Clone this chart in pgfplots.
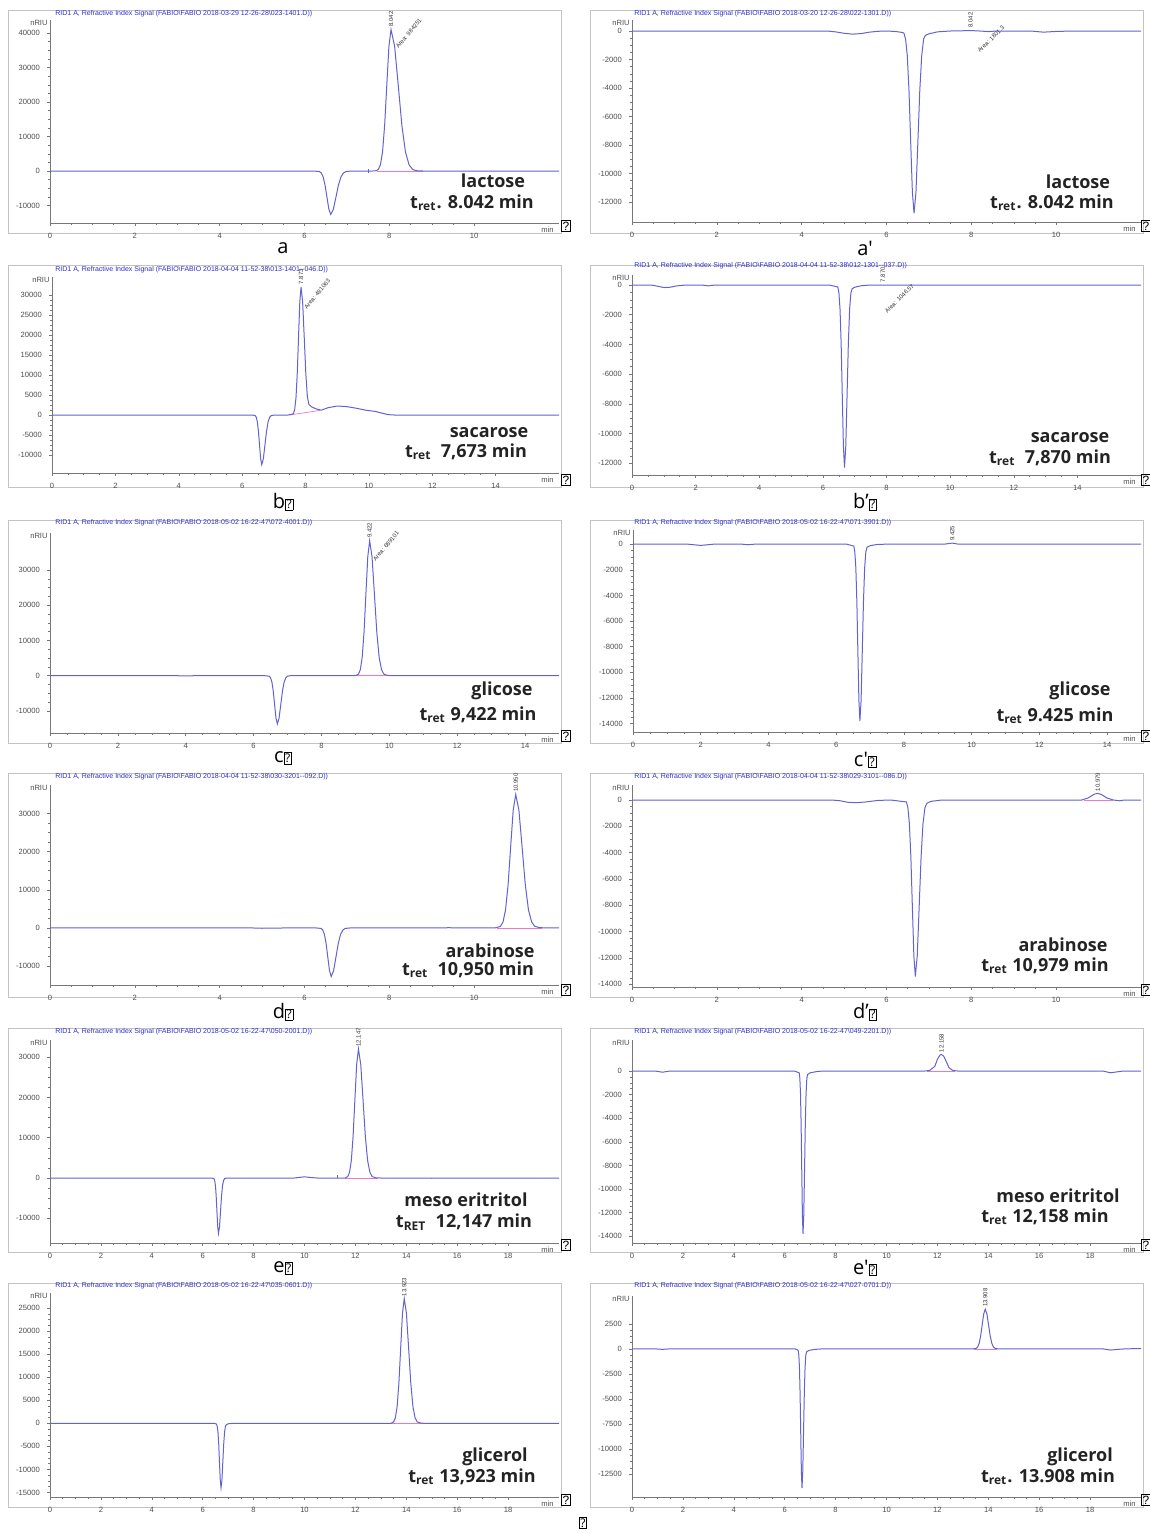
\documentclass[border=0pt]{standalone}
\usepackage{fontspec}
\setmainfont{Liberation Sans}
\newfontfamily\osans{Open Sans}
\usepackage{pgfplots}
\pgfplotsset{compat=1.18}
\definecolor{curvec}{RGB}{98,98,210}
\definecolor{titlec}{RGB}{45,45,205}
\definecolor{framec}{RGB}{195,195,195}
\definecolor{axc}{RGB}{120,120,120}
\definecolor{basec}{RGB}{235,120,200}
\definecolor{txtc}{RGB}{35,35,35}
\newcommand\tickfont{\fontsize{3.8}{4}\selectfont}
\newcommand\ttlfont{\fontsize{3.5}{4}\selectfont}
\newcommand\pkfont{\fontsize{3}{3.5}\selectfont}
\newcommand\bigfont{\osans\bfseries\fontsize{9}{10}\selectfont}
\newcommand\labfont{\osans\fontsize{10}{11}\selectfont}
\newcommand\qbox{{\setlength\fboxsep{0.4pt}\setlength\fboxrule{0.35pt}\fbox{\fontsize{6}{6}\selectfont ?}}}
\newcommand\ttl[1]{RID1 A, Refractive Index Signal (FABIO\textbackslash FABIO #1)}
\tikzset{pk/.style={font=\pkfont, text=black!80, inner sep=0.5pt}}
\pgfplotsset{
  chrom/.style={
    scale only axis, anchor=south west,
    axis x line*=bottom, axis y line*=left,
    axis line style={draw=axc, line width=0.3pt},
    tick style={draw=axc, line width=0.25pt},
    major tick length=1.6pt, minor tick length=0.9pt,
    tick align=outside,
    minor x tick num=3, minor y tick num=3,
    xmin=0, clip=false,
    tick label style={font=\tickfont, text=black!70},
    scaled y ticks=false, scaled x ticks=false,
    /pgf/number format/1000 sep={},
    /pgf/number format/assume math mode=true,
    extra description/.code={
      \node[font=\tickfont, text=black!70, anchor=east, inner sep=1pt] at (0,0.985) {nRIU};
      \node[font=\tickfont, text=black!70, anchor=north east, inner sep=1.2pt, yshift=0.6pt] at (0.995,-0.012) {min};
    },
  },
  curve/.style={curvec, line width=0.5pt},
  base/.style={basec, line width=0.35pt},
}
\begin{document}
\begin{tikzpicture}
\useasboundingbox (0,0) rectangle (575pt,-766.5pt);
% frames
\foreach \t/\b in {-5/-116.5,-132.5/-243.5,-260/-371.5,-386.5/-498.5,-514/-626,-641.5/-753.5}{
  \draw[framec, line width=0.4pt] (4pt,\t pt) rectangle (280.5pt,\b pt);
  \draw[framec, line width=0.4pt] (295pt,\t pt) rectangle (571.5pt,\b pt);
}
% ---------- a ----------
\begin{axis}[chrom, at={(25pt,-111.5pt)}, width=254.5pt, height=101.5pt,
  xmax=12, ymin=-15070, ymax=43770, xtick={0,2,...,10}, ytick={-10000,0,...,40000}]
\addplot[base] coordinates {(7.7,0)(8.8,0)};
\addplot[curve] coordinates {(0,0)(6.2,0)(6.35,-140)(6.395,-554)(6.44,-1700)(6.485,-4095)(6.53,-7648)(6.575,-11113)(6.62,-12600)(6.68,-11113)(6.74,-7648)(6.80,-4095)(6.86,-1700)(6.92,-554)(6.98,-140)(7.1,-20)(7.3,0)(7.6,0)(7.69,100)(7.74,451)(7.79,1804)(7.84,5535)(7.89,13325)(7.94,24887)(7.99,36162)(8.04,41000)(8.125,36162)(8.21,24887)(8.295,13325)(8.38,5535)(8.465,1804)(8.55,451)(8.635,90)(8.8,0)(12,0)};
\addplot[curve] coordinates {(7.5,-600)(7.5,600)};
\node[pk, rotate=90, anchor=west] at (axis cs:8.04,41500) {8.042};
\node[pk, rotate=50, anchor=west] at (axis cs:8.16,35500) {Area: 984251};
\end{axis}
% ---------- a' ----------
\begin{axis}[chrom, at={(316pt,-111pt)}, width=254.5pt, height=101pt,
  xmax=12, ymin=-13404, ymax=772, xtick={0,2,...,10}, ytick={-12000,-10000,...,0}]
\addplot[curve] coordinates {(0,0)(4.6,0)(4.8,-60)(5.0,-160)(5.2,-220)(5.4,-180)(5.6,-80)(5.8,-20)(6.0,0)(6.2,-30)(6.35,-90)(6.41,-141)(6.45,-563)(6.49,-1728)(6.53,-4160)(6.57,-7770)(6.61,-11290)(6.65,-12800)(6.695,-11290)(6.74,-7770)(6.785,-4160)(6.83,-1728)(6.875,-563)(6.92,-300)(7.0,-200)(7.2,-60)(7.5,0)(8.0,30)(8.2,0)(8.4,-40)(8.6,0)(9.4,0)(9.7,-80)(10.0,-30)(10.4,0)(12,0)};
\node[pk, rotate=90, anchor=west] at (axis cs:7.98,150) {8.042};
\node[pk, rotate=45, anchor=west] at (axis cs:8.15,-1500) {Area: 1801.3};
\end{axis}
% ---------- b ----------
\begin{axis}[chrom, at={(26pt,-236.5pt)}, width=253.5pt, height=98pt,
  xmax=16, ymin=-14500, ymax=34500, xtick={0,2,...,14}, ytick={-10000,-5000,...,30000}]
\addplot[base] coordinates {(7.5,0)(8.45,1150)};
\addplot[curve] coordinates {(0,0)(6.2,0)(6.35,-30)(6.41,-136)(6.445,-546)(6.48,-1674)(6.515,-4030)(6.55,-7527)(6.585,-10937)(6.62,-12400)(6.67,-10937)(6.72,-7527)(6.77,-4030)(6.82,-1674)(6.87,-546)(6.92,-136)(7.0,-30)(7.1,0)(7.45,0)(7.55,150)(7.62,352)(7.66,1408)(7.70,4320)(7.74,10400)(7.78,19424)(7.82,28224)(7.86,32000)(7.91,28224)(7.96,19424)(8.01,10400)(8.06,4500)(8.11,2600)(8.2,2000)(8.35,1500)(8.5,1200)(8.7,1800)(9.0,2250)(9.3,2100)(9.6,1700)(9.9,1200)(10.2,900)(10.4,500)(10.6,100)(10.8,0)(16,0)};
\node[pk, rotate=90, anchor=west] at (axis cs:7.86,32400) {7.873};
\node[pk, rotate=50, anchor=west] at (axis cs:7.97,26500) {Area: 481063};
\end{axis}
% ---------- b' ----------
\begin{axis}[chrom, at={(316pt,-237.5pt)}, width=254.5pt, height=100pt,
  xmax=16, ymin=-12795, ymax=673, xtick={0,2,...,14}, ytick={-12000,-10000,...,0}]
\addplot[curve] coordinates {(0,0)(0.6,0)(0.8,-80)(1.0,-170)(1.2,-150)(1.4,-60)(1.7,0)(2.2,0)(2.4,-60)(2.6,0)(6.2,0)(6.4,-100)(6.47,-135)(6.505,-541)(6.54,-1659)(6.575,-3994)(6.61,-7460)(6.645,-10840)(6.68,-12290)(6.72,-10840)(6.76,-7460)(6.80,-3994)(6.84,-1659)(6.88,-541)(6.92,-250)(7.0,-150)(7.2,-50)(7.5,0)(16,0)};
\node[pk, rotate=90, anchor=west] at (axis cs:7.88,100) {7.870};
\node[pk, rotate=45, anchor=west] at (axis cs:7.95,-1900) {Area: 1046.57};
\end{axis}
% ---------- c ----------
\begin{axis}[chrom, at={(25pt,-366.5pt)}, width=254.5pt, height=100pt,
  xmax=15, ymin=-16300, ymax=40500, xtick={0,2,...,14}, ytick={-10000,0,...,30000}]
\addplot[base] coordinates {(9.0,0)(10.0,0)};
\addplot[curve] coordinates {(0,0)(3.6,0)(4.0,-80)(4.4,0)(6.3,0)(6.46,-151)(6.50,-603)(6.54,-1850)(6.58,-4452)(6.62,-8316)(6.66,-12084)(6.70,-13700)(6.75,-12084)(6.80,-8316)(6.85,-4452)(6.90,-1850)(6.95,-603)(7.0,-151)(7.1,0)(9.0,0)(9.09,421)(9.145,1685)(9.20,5170)(9.255,12448)(9.31,23248)(9.365,33781)(9.42,38300)(9.49,33781)(9.56,23248)(9.63,12448)(9.70,5170)(9.77,1685)(9.84,421)(9.95,50)(10.1,0)(15,0)};
\node[pk, rotate=90, anchor=west] at (axis cs:9.42,38700) {9.422};
\node[pk, rotate=50, anchor=west] at (axis cs:9.53,32500) {Area: 689101};
\end{axis}
% ---------- c' ----------
\begin{axis}[chrom, at={(316.5pt,-366pt)}, width=254pt, height=101pt,
  xmax=15, ymin=-14650, ymax=1100, xtick={0,2,...,14}, ytick={-14000,-12000,...,0}]
\addplot[curve] coordinates {(0,0)(1.6,0)(2.0,-100)(2.4,0)(3.2,0)(3.4,-50)(3.6,0)(6.3,0)(6.45,-100)(6.52,-152)(6.55,-607)(6.58,-1863)(6.61,-4485)(6.64,-8377)(6.67,-12172)(6.70,-13800)(6.735,-12172)(6.77,-8377)(6.805,-4485)(6.84,-1863)(6.875,-607)(6.91,-250)(7.0,-120)(7.2,-30)(7.5,0)(9.2,0)(9.43,80)(9.6,0)(15,0)};
\node[pk, rotate=90, anchor=west] at (axis cs:9.43,150) {9.425};
\end{axis}
% ---------- d ----------
\begin{axis}[chrom, at={(25pt,-492.5pt)}, width=254.5pt, height=100pt,
  xmax=12, ymin=-15000, ymax=37500, xtick={0,2,...,10}, ytick={-10000,0,...,30000}]
\addplot[base] coordinates {(10.55,0)(11.6,0)};
\addplot[curve] coordinates {(0,0)(4.7,0)(5.0,-100)(5.3,-80)(5.6,0)(6.25,0)(6.39,-141)(6.43,-562)(6.47,-1725)(6.51,-4154)(6.55,-7757)(6.59,-11272)(6.63,-12780)(6.685,-11272)(6.74,-7757)(6.795,-4154)(6.85,-1725)(6.905,-562)(6.96,-141)(7.1,0)(9.2,0)(9.4,40)(9.6,0)(10.5,0)(10.62,385)(10.68,1540)(10.74,4725)(10.80,11375)(10.86,21245)(10.92,30870)(10.98,35000)(11.055,30870)(11.13,21245)(11.205,11375)(11.28,4725)(11.355,1540)(11.43,385)(11.55,50)(11.7,0)(12,0)};
\node[pk, rotate=90, anchor=west] at (axis cs:10.98,35300) {10.950};
\end{axis}
% ---------- d' ----------
\begin{axis}[chrom, at={(316pt,-493.5pt)}, width=254.5pt, height=101pt,
  xmax=12, ymin=-14200, ymax=1140, xtick={0,2,...,10}, ytick={-14000,-12000,...,0}]
\addplot[base] coordinates {(10.65,0)(11.35,0)};
\addplot[curve] coordinates {(0,0)(4.7,0)(4.9,-50)(5.1,-180)(5.3,-200)(5.5,-150)(5.8,-30)(6.1,0)(6.35,-100)(6.47,-147)(6.505,-590)(6.54,-1809)(6.575,-4355)(6.61,-8134)(6.645,-11819)(6.68,-13400)(6.725,-11819)(6.77,-8134)(6.815,-4355)(6.86,-1809)(6.905,-590)(6.95,-250)(7.05,-100)(7.3,0)(10.6,0)(10.75,150)(10.9,450)(10.98,500)(11.06,430)(11.2,150)(11.35,0)(11.5,-60)(11.6,0)(12,0)};
\node[pk, rotate=90, anchor=west] at (axis cs:10.98,560) {10.979};
\end{axis}
% ---------- e ----------
\begin{axis}[chrom, at={(25pt,-621.5pt)}, width=254.5pt, height=101.5pt,
  xmax=20, ymin=-16130, ymax=34240, xtick={0,2,...,18}, ytick={-10000,0,...,30000}]
\addplot[base] coordinates {(11.6,0)(12.9,0)};
\addplot[curve] coordinates {(0,0)(6.35,0)(6.44,-151)(6.47,-605)(6.50,-1856)(6.53,-4469)(6.56,-8346)(6.59,-12128)(6.62,-13750)(6.66,-12128)(6.70,-8346)(6.74,-4469)(6.78,-1856)(6.82,-605)(6.86,-151)(6.95,0)(9.6,0)(9.8,150)(10.0,300)(10.2,150)(10.5,0)(11.6,0)(11.70,352)(11.77,1408)(11.84,4320)(11.91,10400)(11.98,19424)(12.05,28224)(12.12,32000)(12.21,28224)(12.30,19424)(12.39,10400)(12.48,4320)(12.57,1408)(12.66,352)(12.8,50)(13.0,0)(14.8,0)(15.0,-60)(15.2,0)(20,0)};
\addplot[curve] coordinates {(11.3,0)(11.3,700)};
\node[pk, rotate=90, anchor=west] at (axis cs:12.12,32300) {12.147};
\end{axis}
% ---------- e' ----------
\begin{axis}[chrom, at={(316pt,-621.5pt)}, width=254.5pt, height=101.5pt,
  xmax=20, ymin=-14576, ymax=2627, xtick={0,2,...,18}, ytick={-14000,-12000,...,0}]
\addplot[base] coordinates {(11.6,0)(12.7,0)};
\addplot[curve] coordinates {(0,0)(0.9,0)(1.2,-100)(1.5,0)(6.4,0)(6.45,-60)(6.57,-152)(6.595,-607)(6.62,-1863)(6.645,-4485)(6.67,-8377)(6.695,-12172)(6.72,-13800)(6.75,-12172)(6.78,-8377)(6.81,-4485)(6.84,-1863)(6.87,-607)(6.90,-300)(7.0,-150)(7.3,-30)(7.6,0)(11.5,0)(11.7,50)(11.9,400)(12.0,1000)(12.1,1350)(12.16,1400)(12.25,1250)(12.35,800)(12.45,300)(12.6,50)(12.8,0)(18.5,0)(18.8,-150)(19.1,-60)(19.3,0)(20,0)};
\node[pk, rotate=90, anchor=west] at (axis cs:12.16,1480) {12.158};
\end{axis}
% ---------- f ----------
\begin{axis}[chrom, at={(25pt,-748.5pt)}, width=254.5pt, height=102pt,
  xmax=20, ymin=-16000, ymax=28300, xtick={0,2,...,18}, ytick={-15000,-10000,...,25000}]
\addplot[base] coordinates {(13.4,0)(14.7,0)};
\addplot[curve] coordinates {(0,0)(6.45,0)(6.54,-154)(6.57,-616)(6.60,-1890)(6.63,-4550)(6.66,-8498)(6.69,-12348)(6.72,-14000)(6.755,-12348)(6.79,-8498)(6.825,-4550)(6.86,-1890)(6.895,-616)(6.93,-300)(7.0,-100)(7.2,0)(13.4,0)(13.50,298)(13.57,1192)(13.64,3659)(13.71,8808)(13.78,16450)(13.85,23902)(13.92,27100)(14.005,23902)(14.09,16450)(14.175,8808)(14.26,3659)(14.345,1192)(14.43,298)(14.6,30)(14.8,0)(20,0)};
\node[pk, rotate=90, anchor=west] at (axis cs:13.92,27300) {13.923};
\end{axis}
% ---------- f' ----------
\begin{axis}[chrom, at={(316pt,-748.5pt)}, width=254.5pt, height=100.5pt,
  xmax=20, ymin=-14780, ymax=5270, xtick={0,2,...,18}, ytick={-12500,-10000,...,2500}]
\addplot[base] coordinates {(13.45,0)(14.35,0)};
\addplot[curve] coordinates {(0,0)(0.9,0)(1.2,-50)(1.5,0)(6.4,0)(6.47,-60)(6.53,-153)(6.555,-611)(6.58,-1874)(6.605,-4511)(6.63,-8425)(6.655,-12242)(6.68,-13880)(6.71,-12242)(6.74,-8425)(6.77,-4511)(6.80,-1874)(6.83,-611)(6.86,-300)(6.95,-150)(7.2,-50)(7.5,0)(13.4,0)(13.52,43)(13.58,174)(13.64,533)(13.70,1284)(13.76,2398)(13.82,3484)(13.88,3950)(13.945,3484)(14.01,2398)(14.075,1284)(14.14,533)(14.205,174)(14.27,43)(14.4,0)(18.5,0)(18.8,-120)(19.1,-50)(19.4,0)(20,30)};
\node[pk, rotate=90, anchor=west] at (axis cs:13.88,4050) {13.908};
\end{axis}
% titles
\begin{scope}[every node/.style={font=\ttlfont, text=titlec, anchor=west, inner sep=0pt}]
\node at (27.5pt,-7pt) {\ttl{2018-03-29 12-26-28\textbackslash 023-1401.D)}};
\node at (317pt,-7pt) {\ttl{2018-03-20 12-26-28\textbackslash 022-1301.D)}};
\node at (27.5pt,-135pt) {\ttl{2018-04-04 11-52-38\textbackslash 013-1401-{}-046.D)}};
\node at (317pt,-133pt) {\ttl{2018-04-04 11-52-38\textbackslash 012-1301-{}-037.D)}};
\node at (27.5pt,-261.5pt) {\ttl{2018-05-02 16-22-47\textbackslash 072-4001.D)}};
\node at (317pt,-261.5pt) {\ttl{2018-05-02 16-22-47\textbackslash 071-3901.D)}};
\node at (27.5pt,-388.5pt) {\ttl{2018-04-04 11-52-38\textbackslash 030-3201-{}-092.D)}};
\node at (317pt,-388.5pt) {\ttl{2018-04-04 11-52-38\textbackslash 029-3101-{}-086.D)}};
\node at (27.5pt,-516pt) {\ttl{2018-05-02 16-22-47\textbackslash 050-2001.D)}};
\node at (317pt,-516pt) {\ttl{2018-05-02 16-22-47\textbackslash 049-2201.D)}};
\node at (27.5pt,-643pt) {\ttl{2018-05-02 16-22-47\textbackslash 035-0601.D)}};
\node at (317pt,-643pt) {\ttl{2018-05-02 16-22-47\textbackslash 027-0701.D)}};
\end{scope}
% sample names and retention times
\begin{scope}[every node/.style={font=\bigfont, text=txtc, inner sep=0pt}]
\node at (246.5pt,-90.5pt) {lactose};
\node at (236pt,-101.5pt) {t\textsubscript{ret}. 8.042 min};
\node at (539pt,-91pt) {lactose};
\node at (526pt,-101.5pt) {t\textsubscript{ret}. 8.042 min};
\node at (244.5pt,-216.5pt) {sacarose};
\node at (233pt,-226pt) {t\textsubscript{ret}\ \ 7,673 min};
\node at (535pt,-219pt) {sacarose};
\node at (525pt,-229pt) {t\textsubscript{ret}\ \ 7,870 min};
\node at (251pt,-345.5pt) {glicose};
\node at (239pt,-357.5pt) {t\textsubscript{ret} 9,422 min};
\node at (540pt,-345.5pt) {glicose};
\node at (527.5pt,-358pt) {t\textsubscript{ret} 9.425 min};
\node at (245pt,-475.5pt) {arabinose};
\node at (234pt,-485pt) {t\textsubscript{ret}\ \ 10,950 min};
\node at (531.5pt,-472.5pt) {arabinose};
\node at (522.5pt,-483pt) {t\textsubscript{ret} 10,979 min};
\node at (233pt,-600pt) {meso eritritol};
\node at (232pt,-611pt) {t\textsubscript{RET}\ \ 12,147 min};
\node at (529pt,-598pt) {meso eritritol};
\node at (522.5pt,-608.5pt) {t\textsubscript{ret} 12,158 min};
\node at (247.5pt,-728.5pt) {glicerol};
\node at (236pt,-738.5pt) {t\textsubscript{ret} 13,923 min};
\node at (540pt,-728.5pt) {glicerol};
\node at (524pt,-738.5pt) {t\textsubscript{ret}. 13.908 min};
\end{scope}
% panel letters
\begin{scope}[every node/.style={font=\labfont, text=black, inner sep=0pt}]
\node at (141.5pt,-124pt) {a};
\node at (432.5pt,-124pt) {a'};
\node at (141.5pt,-251pt) {b\qbox};
\node at (432.5pt,-251pt) {b’\qbox};
\node at (141.5pt,-379pt) {c\qbox};
\node at (432.5pt,-380pt) {c'\qbox};
\node at (141.5pt,-506pt) {d\qbox};
\node at (432.5pt,-506pt) {d’\qbox};
\node at (141.5pt,-634pt) {e\qbox};
\node at (432.5pt,-634pt) {e'\qbox};
\node at (291.5pt,-761.5pt) {\qbox};
\end{scope}
\foreach \yy in {-113,-240,-368,-495,-622.5,-750}{
  \node[inner sep=0pt] at (283pt,\yy pt) {\qbox};
  \node[inner sep=0pt] at (573pt,\yy pt) {\qbox};
}
\end{tikzpicture}
\end{document}
